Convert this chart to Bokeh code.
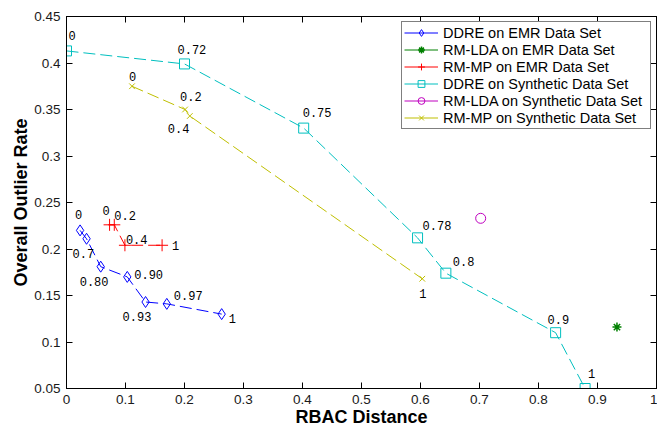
from bokeh.plotting import figure
from bokeh.models import Range1d, LinearAxis, FixedTicker, Legend, LegendItem, ColumnDataSource
from bokeh.core.properties import value
from bokeh.embed import file_html
from bokeh.resources import INLINE

# ---- axis ticks ----
x_ticks = [0.0, 0.1, 0.2, 0.3, 0.4, 0.5, 0.6, 0.7, 0.8, 0.9, 1.0]
x_tick_labels = ["0", "0.1", "0.2", "0.3", "0.4", "0.5", "0.6", "0.7", "0.8", "0.9", "1"]
y_ticks = [0.05, 0.1, 0.15, 0.2, 0.25, 0.3, 0.35, 0.4, 0.45]
y_tick_labels = ["0.05", "0.1", "0.15", "0.2", "0.25", "0.3", "0.35", "0.4", "0.45"]

# ---- series ----
ddre_emr_x = [0.023, 0.034, 0.058, 0.103, 0.134, 0.170, 0.263]
ddre_emr_y = [0.220, 0.211, 0.181, 0.170, 0.143, 0.141, 0.130]
ddre_emr_lbl = ["0", "0.7", "0.80", "0.90", "0.93", "0.97", "1"]

rmlda_emr_x = [0.933]
rmlda_emr_y = [0.116]

rmmp_emr_x = [0.073, 0.081, 0.099, 0.162]
rmmp_emr_y = [0.226, 0.226, 0.204, 0.204]
rmmp_emr_lbl = ["0", "0.2", "0.4", "1"]

ddre_syn_x = [0.0, 0.200, 0.402, 0.595, 0.643, 0.829, 0.879]
ddre_syn_y = [0.413, 0.399, 0.330, 0.212, 0.174, 0.110, 0.050]
ddre_syn_lbl = ["0", "0.72", "0.75", "0.78", "0.8", "0.9", "1"]

rmlda_syn_x = [0.702]
rmlda_syn_y = [0.233]

rmmp_syn_x = [0.111, 0.201, 0.209, 0.603]
rmmp_syn_y = [0.375, 0.350, 0.343, 0.168]
rmmp_syn_lbl = ["0", "0.2", "0.4", "1"]

# label pixel offsets (style)
ddre_emr_off = [(-5, -16), (-14, 15), (-21, 15), (7, -2), (-23, 14), (7, -8), (7, 4)]
rmmp_emr_off = [(-7, -14), (0, -9), (1, -6), (10, 0)]
ddre_syn_off = [(2, -15), (-7, -14), (-1, -16), (5, -12), (7, -12), (-8, -13), (3, -15)]
rmmp_syn_off = [(-3, -10), (-5, -13), (-22, 12), (-3, 15)]

BLUE = "#0000ff"
GREEN = "#008000"
RED = "#ff0000"
CYAN = "#00bfbf"
MAGENTA = "#bf00bf"
YELLOW = "#bfbf00"
DASH = "12 5"

p = figure(width=657, height=429, x_range=Range1d(0, 1), y_range=Range1d(0.05, 0.45),
           output_backend="svg", toolbar_location=None,
           min_border_left=66, min_border_right=1, min_border_top=16, min_border_bottom=41)
p.grid.visible = False
p.outline_line_color = "black"
p.outline_line_width = 1
p.background_fill_color = "white"
p.border_fill_color = "white"


def style_axis(ax, ticks, labels, show):
    ax.ticker = FixedTicker(ticks=ticks)
    ax.major_tick_in = 6
    ax.major_tick_out = 0
    ax.minor_tick_in = 0
    ax.minor_tick_out = 0
    ax.axis_line_color = "black"
    ax.major_tick_line_color = "black"
    ax.major_label_text_font = "Liberation Sans"
    if show:
        ax.major_label_overrides = {t: l for t, l in zip(ticks, labels)}
        ax.major_label_text_font_size = "13.5px"
        ax.major_label_text_color = "#1a1a1a"
    else:
        ax.major_label_text_font_size = "0px"
        ax.major_label_text_color = None
        ax.major_label_standoff = 0


xb = p.below[0]
yl = p.left[0]
style_axis(xb, x_ticks, x_tick_labels, True)
style_axis(yl, y_ticks, y_tick_labels, True)
xb.major_label_standoff = 6
yl.major_label_standoff = 6
xb.axis_label = "RBAC Distance"
yl.axis_label = "Overall Outlier Rate"
for ax in (xb, yl):
    ax.axis_label_text_font = "Liberation Sans"
    ax.axis_label_text_font_size = "18px"
    ax.axis_label_text_font_style = "bold"
    ax.axis_label_text_color = "black"
xb.axis_label_standoff = 0
yl.axis_label_standoff = 0

top = LinearAxis()
style_axis(top, x_ticks, x_tick_labels, False)
p.add_layout(top, "above")
right = LinearAxis()
style_axis(right, y_ticks, y_tick_labels, False)
p.add_layout(right, "right")

items = []


def add_series(name, xs, ys, color, marker, size, lw=1.0):
    p.line(xs, ys, line_color=color, line_width=1, line_dash=DASH)
    leg_line = p.line(xs, ys, line_color=color, line_width=1, visible=False)
    m = p.scatter(xs, ys, marker=marker, size=size, fill_color=None,
                  line_color=color, line_width=lw)
    items.append(LegendItem(label=name, renderers=[leg_line, m]))


def add_labels(xs, ys, lbls, offs):
    src = ColumnDataSource(dict(x=xs, y=ys, t=lbls,
                                dx=[o[0] for o in offs], dy=[o[1] for o in offs]))
    p.text(x="x", y="y", text="t", x_offset="dx", y_offset="dy", source=src,
           text_font=value("Liberation Mono"), text_font_size=value("12px"),
           text_baseline="middle", text_align="left", text_color="black")


add_series("DDRE on EMR Data Set", ddre_emr_x, ddre_emr_y, BLUE, "diamond", 11)
add_series("RM-LDA on EMR Data Set", rmlda_emr_x, rmlda_emr_y, GREEN, "asterisk", 9, 1.5)
add_series("RM-MP on EMR Data Set", rmmp_emr_x, rmmp_emr_y, RED, "cross", 12)
add_series("DDRE on Synthetic Data Set", ddre_syn_x, ddre_syn_y, CYAN, "square", 10)
add_series("RM-LDA on Synthetic Data Set", rmlda_syn_x, rmlda_syn_y, MAGENTA, "circle", 10)
add_series("RM-MP on Synthetic Data Set", rmmp_syn_x, rmmp_syn_y, YELLOW, "x", 8)

add_labels(ddre_emr_x, ddre_emr_y, ddre_emr_lbl, ddre_emr_off)
add_labels(rmmp_emr_x, rmmp_emr_y, rmmp_emr_lbl, rmmp_emr_off)
add_labels(ddre_syn_x, ddre_syn_y, ddre_syn_lbl, ddre_syn_off)
add_labels(rmmp_syn_x, rmmp_syn_y, rmmp_syn_lbl, rmmp_syn_off)

legend = Legend(items=items, location=(335, 259), margin=0,
                padding=2, spacing=0, label_height=17, glyph_height=17, glyph_width=34,
                label_standoff=5, label_width=205, label_text_font="Liberation Sans",
                label_text_font_size="14.5px", label_text_color="black",
                border_line_color="black", border_line_width=1,
                background_fill_color="white", background_fill_alpha=1.0)
p.add_layout(legend, "center")

open("out.html", "w").write(file_html(p, INLINE))
